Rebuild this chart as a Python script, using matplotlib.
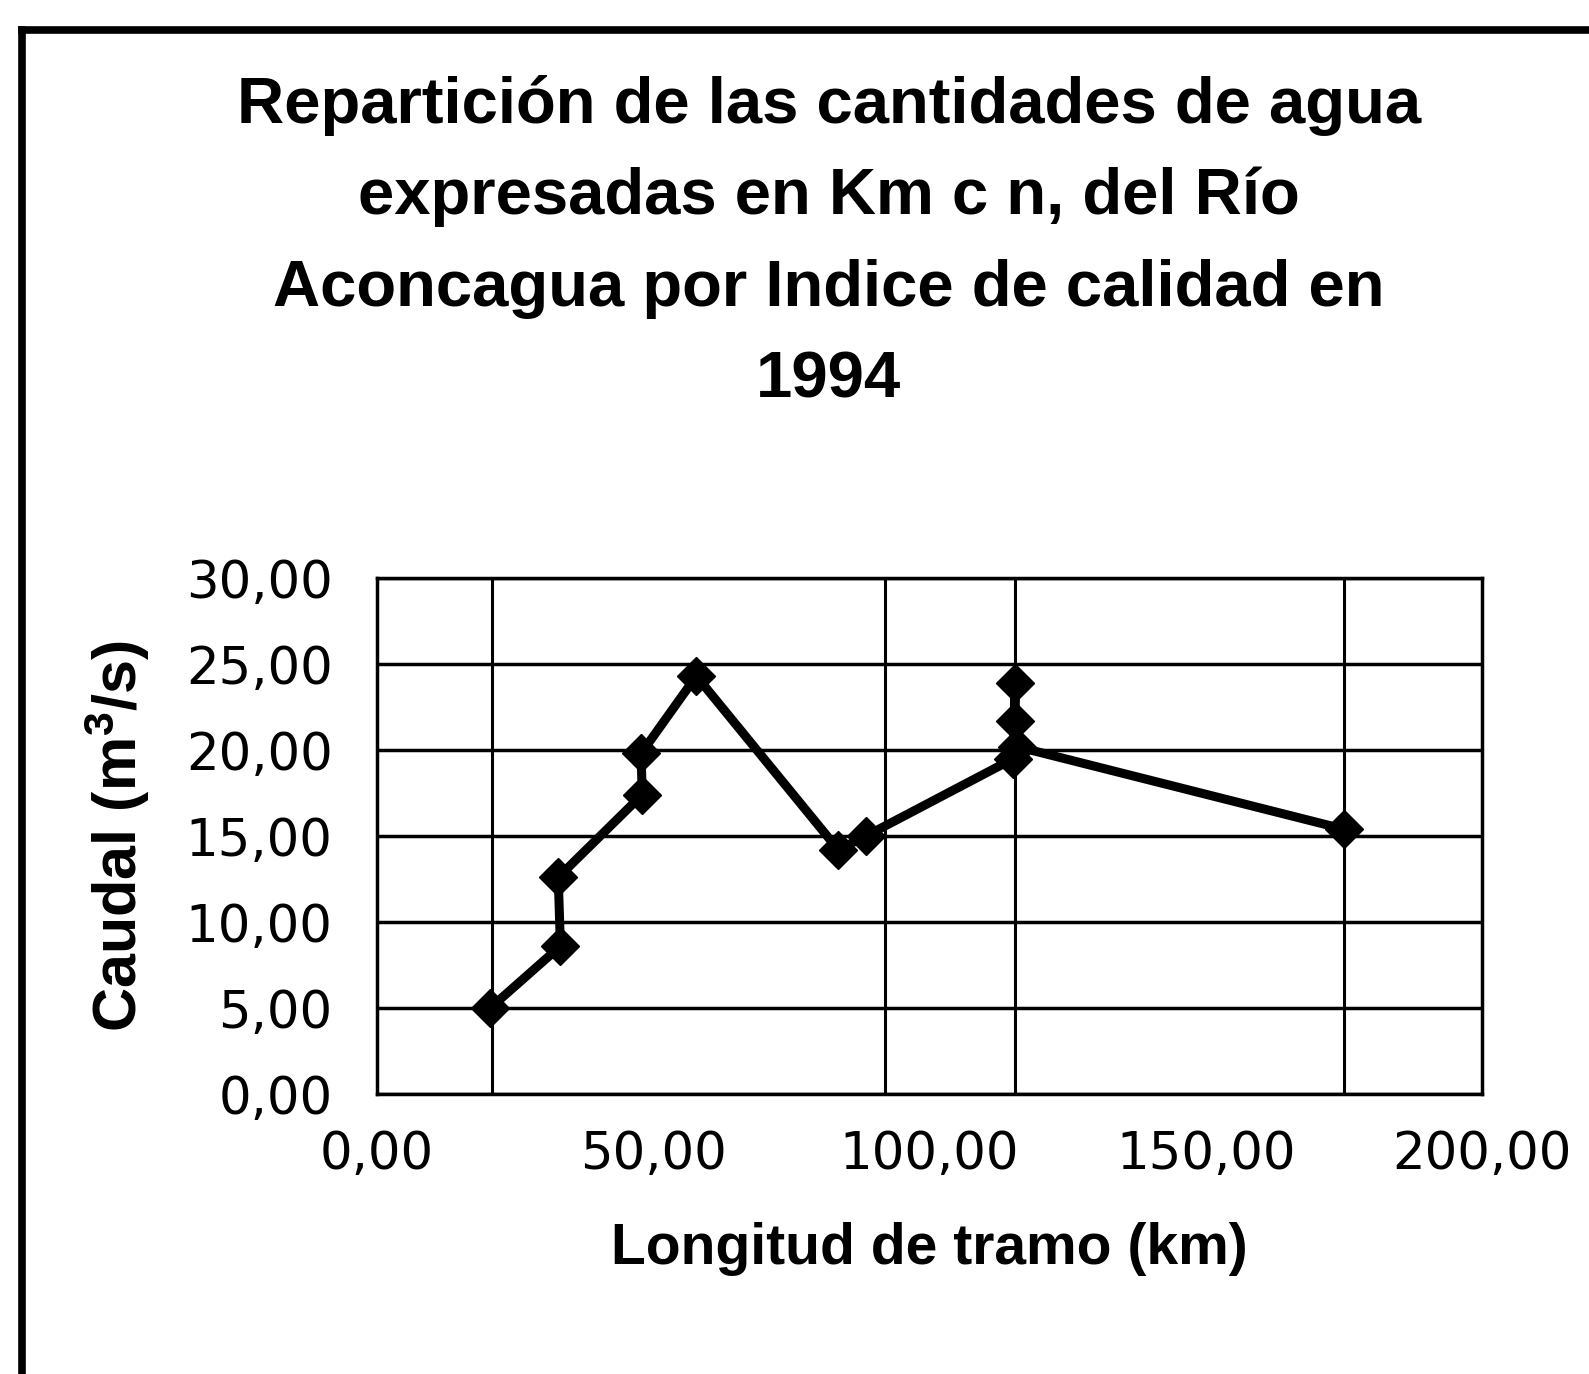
"""
Caudal del Río Aconcagua por tramo (1994), redibujado desde una figura escaneada.
"""
import matplotlib
matplotlib.use("Agg")
import matplotlib.pyplot as plt
from matplotlib.lines import Line2D

plt.rcParams["font.family"] = ["Liberation Sans", "DejaVu Sans"]
plt.rcParams["mathtext.fontset"] = "custom"
plt.rcParams["mathtext.bf"] = "Liberation Sans:bold"

# datos
longitud_km = [20.5, 33.2, 32.8, 48.0, 47.8, 57.8, 83.5, 88.5, 115.2, 115.5, 115.5, 115.8, 175.0]
caudal_m3s = [5.0, 8.6, 12.6, 17.4, 19.8, 24.3, 14.2, 15.0, 19.5, 23.9, 21.7, 20.2, 15.4]

x_ticks = [0, 50, 100, 150, 200]
y_ticks = [0, 5, 10, 15, 20, 25, 30]
x_gridlines = [20.8, 92.0, 115.4, 175.0]  # lineas verticales del original

title_lines = [
    "Repartición de las cantidades de agua",
    "expresadas en Km c n, del Río",
    "Aconcagua por Indice de calidad en",
    "1994",
]


def coma(v):
    return f"{v:.2f}".replace(".", ",")


W, H = 1589, 1374
fig = plt.figure(figsize=(W / 100, H / 100), dpi=100)

# marco exterior (solo borde izquierdo y superior visibles)
fx, fy = 22 / W, 1 - 30 / H
fig.add_artist(Line2D([fx, fx], [0, fy], color="black", lw=5.5, transform=fig.transFigure))
fig.add_artist(Line2D([fx, 1], [fy, fy], color="black", lw=5.5, transform=fig.transFigure))

# titulo, una linea por renglon
for i, line in enumerate(title_lines):
    fig.text(829 / W, 1 - (105 + 92 * i) / H, line, ha="center", va="center",
             fontsize=47, fontweight="bold")

ax = fig.add_axes([377 / W, 1 - 1094 / H, (1482 - 377) / W, (1094 - 578) / H])
ax.plot(longitud_km, caudal_m3s, color="black", lw=6.5, marker="D", ms=19,
        mfc="black", mec="black", solid_joinstyle="round", zorder=3)

ax.set_xlim(0, 200)
ax.set_ylim(0, 30)
ax.set_xticks(x_ticks)
ax.set_xticklabels([coma(v) for v in x_ticks], family="DejaVu Sans")
ax.set_yticks(y_ticks)
ax.set_yticklabels([coma(v) for v in y_ticks], family="DejaVu Sans")
ax.tick_params(axis="both", length=0, labelsize=37)
ax.tick_params(axis="y", pad=32)
ax.tick_params(axis="x", pad=26)

ax.grid(axis="y", color="black", lw=2.5)
for xv in x_gridlines:
    ax.axvline(xv, color="black", lw=2.2, zorder=1)
for s in ax.spines.values():
    s.set_linewidth(2.5)

ax.set_xlabel("Longitud de tramo (km)", fontsize=41, fontweight="bold", labelpad=30)
ax.set_ylabel(r"Caudal (m$\mathbf{^3}$/s)", fontsize=44, fontweight="bold", labelpad=24)

fig.savefig("out.png", dpi=100)
